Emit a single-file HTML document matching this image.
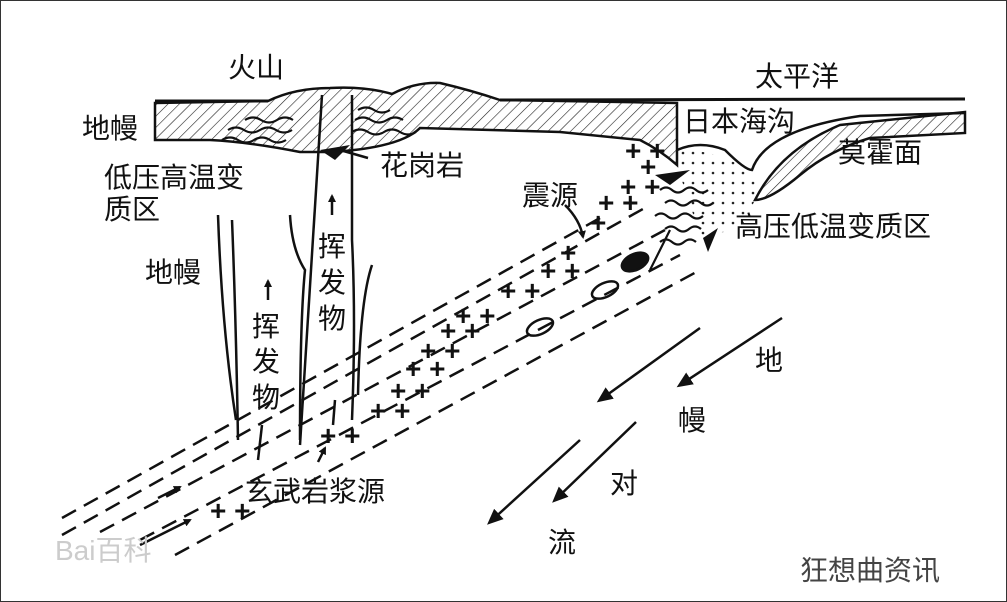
<!DOCTYPE html>
<html><head><meta charset="utf-8"><style>
html,body{margin:0;padding:0;background:#fff}
svg{display:block}
text{font-family:"Liberation Sans","Noto Sans CJK SC",sans-serif;font-size:28px;fill:#111}
</style></head><body>
<svg width="1007" height="602" viewBox="0 0 1007 602" xmlns="http://www.w3.org/2000/svg">
<defs>
<pattern id="h" width="8" height="8" patternUnits="userSpaceOnUse" patternTransform="rotate(45)">
<line x1="0" y1="0" x2="0" y2="8" stroke="#222" stroke-width="1.2"/></pattern>
<pattern id="d" width="10" height="10" patternUnits="userSpaceOnUse"><circle cx="3" cy="3" r="1.3" fill="#222"/></pattern>
<marker id="a" markerWidth="8" markerHeight="8" refX="6" refY="4" orient="auto" markerUnits="userSpaceOnUse"><path d="M0,0 L8,4 L0,8 Z" fill="#111"/></marker>
<marker id="b" markerWidth="16" markerHeight="14" refX="12" refY="7" orient="auto" markerUnits="userSpaceOnUse"><path d="M0,0 L16,7 L0,14 Z" fill="#111"/></marker>
</defs>
<rect x="0.5" y="0.5" width="1006" height="601" fill="#fff" stroke="#333"/>
<!-- left crust + volcano -->
<path d="M155,103 L268,101 Q295,88 330,88 Q365,86 392,94 Q415,82 440,83 Q470,90 500,100 L677,103 L677,165 Q660,150 640,140 L560,132 L420,128 Q400,148 330,152 L300,152 Q250,142 210,140 L155,140 Z" fill="url(#h)" stroke="#111" stroke-width="2.5"/>
<path d="M155,101 L268,101 M500,100 L965,99" stroke="#111" stroke-width="3"/>
<!-- wavy metamorphic -->
<path d="M222,140 q8,-5 16,0 q8,5 16,0 q8,-5 16,0 q8,5 16,0 M228,130 q8,-5 16,0 q8,5 16,0 q8,-5 16,0 q8,5 16,0 M245,120 q8,-5 16,0 q8,5 16,0 q8,-5 16,0 M355,120 q8,-5 16,0 q8,5 16,0 q8,-5 16,0 M352,132 q8,-5 16,0 q8,5 16,0 q8,-5 16,0 q8,5 16,0 M358,110 q8,-5 16,0 q8,5 16,0" fill="none" stroke="#111" stroke-width="2.2"/>
<path d="M320,150 L350,145 L335,160 Z" fill="#111"/>
<line x1="340" y1="150" x2="368" y2="158" stroke="#111" stroke-width="2.5"/>
<!-- right crust, trench -->
<path d="M680,150 Q720,150 750,172 L760,190 L740,230 L700,235 L680,175 Z" fill="url(#d)"/>
<path d="M677,150 Q700,140 725,150 Q745,170 752,170 Q765,130 860,116 L965,113" fill="none" stroke="#111" stroke-width="2.5"/>
<path d="M755,200 Q780,150 840,125 L965,112 L965,133 L870,138 Q830,150 800,175 Q770,200 755,200 Z" fill="url(#h)" stroke="#111" stroke-width="2.5"/>
<path d="M655,175 L690,170 L670,185 Z" fill="#111"/>
<path d="M660,190 q6,-5 12,0 q6,5 12,0 q6,-5 12,0 q6,5 12,0 M665,203 q6,-5 12,0 q6,5 12,0 q6,-5 12,0 q6,5 12,0 M655,216 q6,-5 12,0 q6,5 12,0 q6,-5 12,0 q6,5 12,0 M665,229 q6,-5 12,0 q6,5 12,0 q6,-5 12,0 M660,242 q6,-5 12,0 q6,5 12,0 q6,-5 12,0 M650,270 q10,-20 20,-40" fill="none" stroke="#111" stroke-width="2.2"/>
<path d="M703,238 L718,228 L708,252 Z" fill="#111"/>
<!-- slab dashed lines -->
<g stroke="#111" stroke-width="2.5" stroke-dasharray="16,9" fill="none">
<line x1="62" y1="518" x2="600" y2="218"/>
<line x1="62" y1="535" x2="650" y2="205"/>
<line x1="100" y1="532" x2="665" y2="230"/>
<line x1="140" y1="540" x2="680" y2="255"/>
<line x1="175" y1="555" x2="700" y2="270"/>
</g>
<g stroke="#111" stroke-width="2.5" fill="none">
<ellipse cx="540" cy="327" rx="14" ry="7" transform="rotate(-25 540 327)"/>
<ellipse cx="605" cy="290" rx="14" ry="7" transform="rotate(-25 605 290)"/>
<ellipse cx="635" cy="262" rx="14" ry="8" transform="rotate(-25 635 262)" fill="#111"/>
</g>
<!-- plus signs -->
<g style="font-family:'Liberation Sans',sans-serif;font-weight:bold">
<text x="210" y="520" font-size="20">+ +</text><text x="320" y="445" font-size="20">+ +</text>
<text x="370" y="420" font-size="20">+ +</text>
<text x="390" y="400" font-size="20">+ +</text><text x="405" y="378" font-size="20">+ +</text>
<text x="420" y="360" font-size="20">+ +</text><text x="440" y="340" font-size="20">+ +</text>
<text x="455" y="325" font-size="20">+ +</text><text x="500" y="300" font-size="20">+ +</text>
<text x="540" y="280" font-size="20">+ +</text><text x="560" y="262" font-size="20">+</text>
<text x="590" y="232" font-size="20">+</text><text x="598" y="212" font-size="20">+ +</text>
<text x="620" y="196" font-size="20">+ +</text><text x="625" y="160" font-size="20">+ +</text>
<text x="640" y="176" font-size="20">+</text>
</g>
<!-- volatile channels -->
<g stroke="#111" stroke-width="2.5" fill="none">
<path d="M322,95 Q312,250 300,445"/><path d="M352,95 L352,240 Q356,320 352,420"/>
<path d="M290,215 Q292,250 305,270 Q300,320 300,440"/>
<path d="M232,220 Q236,320 238,440"/>
<path d="M218,215 Q222,330 236,420"/>
<path d="M372,265 Q360,300 358,395"/>
<path d="M262,425 L258,460"/><path d="M335,400 L333,425"/>
<line x1="332" y1="215" x2="332" y2="196" marker-end="url(#a)"/>
<line x1="268" y1="300" x2="268" y2="281" marker-end="url(#a)"/>
<line x1="318" y1="462" x2="325" y2="448" marker-end="url(#a)"/>
<line x1="158" y1="498" x2="180" y2="487" marker-end="url(#a)"/>
<line x1="140" y1="545" x2="190" y2="520" marker-end="url(#a)"/>
<path d="M565,205 Q580,220 583,237" marker-end="url(#a)"/>
<line x1="782" y1="318" x2="680" y2="385" marker-end="url(#b)"/>
<line x1="700" y1="328" x2="600" y2="400" marker-end="url(#b)"/>
<line x1="636" y1="422" x2="555" y2="500" marker-end="url(#b)"/>
<line x1="580" y1="440" x2="490" y2="522" marker-end="url(#b)"/>
</g>
<!-- labels -->
<text x="228" y="77">火山</text>
<text x="755" y="86">太平洋</text>
<text x="82" y="138">地幔</text>
<text x="683" y="131">日本海沟</text>
<text x="838" y="162">莫霍面</text>
<text x="104" y="187">低压高温变</text>
<text x="104" y="219">质区</text>
<text x="380" y="175">花岗岩</text>
<text x="522" y="205">震源</text>
<text x="735" y="236">高压低温变质区</text>
<text x="145" y="282">地幔</text>
<text x="318" y="256">挥</text><text x="318" y="292">发</text><text x="318" y="328">物</text>
<text x="252" y="336">挥</text><text x="252" y="371">发</text><text x="252" y="407">物</text>
<text x="245" y="501">玄武岩浆源</text>
<text x="755" y="370">地</text><text x="678" y="430">幔</text>
<text x="610" y="493">对</text><text x="548" y="552">流</text>
<text x="55" y="560" font-size="20" style="fill:#ccc">Bai百科</text>
<text x="800" y="580" font-size="22" style="fill:#444">狂想曲资讯</text>
</svg>
</body></html>
